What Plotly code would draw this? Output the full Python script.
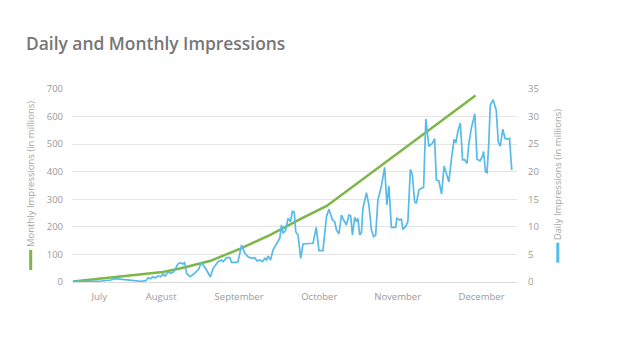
import plotly.graph_objects as go

# ---- data ----
# x unit: day index along the axis
daily_x = [0.2, 6.0, 11.2, 15.2, 16.9, 19.2, 23.2, 27.2, 29.2, 30.0, 31.1, 32.0, 32.9, 34.0, 35.1, 36.0, 36.9,
           38.0, 39.3, 40.4, 42.0, 43.1, 44.0, 44.7, 45.5, 46.8, 48.4, 50.3, 51.4, 53.3, 55.0, 56.1, 58.1, 59.5,
           60.1, 61.5, 62.8, 63.5, 65.5, 66.1, 67.5, 68.8, 70.1, 71.5, 72.8, 73.7, 74.8, 75.9, 76.8, 77.5, 78.1,
           79.1, 80.1, 81.5, 82.8, 83.5, 84.1, 85.2, 86.1, 87.1, 87.9, 88.6, 89.2, 90.1, 91.2, 92.1, 93.5, 94.5,
           96.1, 97.4, 98.5, 100.1, 101.5, 102.5, 103.9, 104.8, 105.5, 106.5, 107.5, 108.4, 109.5, 110.5, 111.2,
           111.9, 112.8, 113.5, 114.1, 114.8, 115.5, 116.1, 117.5, 118.5, 119.5, 120.4, 121.2, 122.1, 123.5,
           124.8, 125.7, 126.5, 127.5, 129.2, 129.7, 130.8, 131.5, 132.1, 133.2, 134.1, 135.1, 135.9, 136.8,
           137.5, 138.5, 139.5, 140.4, 141.3, 142.5, 143.9, 144.8, 145.5, 146.5, 147.6, 148.6, 149.5, 150.5,
           151.5, 152.6, 153.3, 154.1, 155.1, 156.0, 156.8, 157.8, 158.5, 159.5, 160.9, 161.8, 163.0, 164.0,
           164.4, 165.2, 165.8, 166.5, 167.1, 168.2, 169.5, 170.3, 171.1, 172.1, 173.0, 173.9, 174.8, 175.7]
daily_values = [0.18, 0.05, 0.18, 0.36, 0.6, 0.49, 0.24, 0.13, 0.24, 0.73, 0.6, 0.96, 0.73, 1.09, 0.96, 1.45, 1.09,
                1.76, 1.58, 1.87, 3.26, 3.5, 3.26, 3.5, 1.58, 0.96, 1.45, 2.3, 3.54, 2.3, 0.91, 2.48, 3.68, 3.99,
                3.68, 4.41, 4.41, 3.57, 3.57, 3.68, 6.71, 5.2, 4.59, 4.3, 4.41, 3.81, 3.99, 3.68, 4.3, 3.99, 4.72,
                3.99, 5.8, 7.02, 7.93, 10.34, 8.83, 9.43, 11.55, 10.94, 12.88, 12.6, 9.12, 8.52, 4.3, 6.89, 6.89, 7.02,
                7.02, 9.92, 5.68, 5.68, 11.84, 13.18, 11.24, 10.94, 9.43, 8.71, 12.15, 11.24, 10.34, 12.15, 11.97,
                8.52, 11.73, 10.94, 11.55, 8.52, 8.94, 13.37, 16.2, 13.96, 9.43, 8.22, 8.52, 14.87, 17.41,
                20.8, 13.96, 17.41, 9.92, 9.92, 11.55, 11.24, 11.37, 9.56, 10.03, 10.94, 20.44, 19.4, 14.56,
                14.27, 16.68, 16.99, 17.17, 29.56, 24.61, 25.15, 26.02, 18.5, 18.32, 15.96, 21.04, 19.71, 18.14,
                22.13, 25.88, 25.21, 27.26, 28.84, 22.13, 22.22, 21.49, 25.03, 27.87, 30.5, 22.27, 21.98, 22.85,
                23.67, 19.95, 19.82, 25.15, 32.05, 33.08, 31.1, 25.39, 24.66, 27.71, 26.06, 25.88, 26.06, 20.31]

monthly_x = [0, 16, 36, 42.8, 54.8, 66.8, 78.8, 90.8, 101.6, 161.2]
monthly_values = [2, 16, 36, 49, 76, 120, 170, 227, 276, 676]

month_ticks = [10.5, 35.3, 66.5, 98.6, 130.0, 163.6]
month_labels = ["July", "August", "September", "October", "November", "December"]

left_ticks = [0, 100, 200, 300, 400, 500, 600, 700]
right_ticks = [0, 5, 10, 15, 20, 25, 30, 35]

GREEN = "#7db646"
BLUE = "#56bbe8"
TICK = "#9a9a9a"
GRID = "#e4e4e4"
FONT = "Open Sans"

fig = go.Figure()
fig.add_trace(go.Scatter(x=monthly_x, y=monthly_values, mode="lines", yaxis="y",
                         line=dict(color=GREEN, width=2.5), hoverinfo="skip"))
fig.add_trace(go.Scatter(x=daily_x, y=daily_values, mode="lines", yaxis="y2",
                         line=dict(color=BLUE, width=1.7), hoverinfo="skip"))

fig.update_layout(
    width=621, height=338,
    margin=dict(l=72, r=104, t=89, b=56),
    paper_bgcolor="white", plot_bgcolor="white",
    showlegend=False,
    font=dict(family=FONT, color=TICK, size=10),
    title=dict(text="Daily and Monthly Impressions", x=26 / 621, xanchor="left", xref="container",
               y=1 - 44 / 338, yanchor="middle", yref="container",
               font=dict(family=FONT, size=17.4, color="#767676", weight=600)),
    xaxis=dict(range=[-0.4, 177.8], tickmode="array", tickvals=month_ticks, ticktext=month_labels,
               showgrid=False, zeroline=False, showline=True, linecolor="#dcdcdc", linewidth=1,
               ticks="", tickfont=dict(size=9.5, color=TICK), ticklabelstandoff=6),
    yaxis=dict(range=[0, 700], tickmode="array", tickvals=left_ticks, showgrid=True, gridcolor=GRID,
               gridwidth=1, zeroline=False, showline=False, ticks="",
               tickfont=dict(size=9.5, color=TICK), ticklabelstandoff=8),
    yaxis2=dict(range=[0, 35], tickmode="array", tickvals=right_ticks, overlaying="y", side="right",
                showgrid=False, zeroline=False, showline=False, ticks="",
                tickfont=dict(size=9.5, color=TICK), ticklabelstandoff=10),
)

fig.add_annotation(text="Monthly Impressions (in millions)", xref="paper", yref="paper",
                   x=-0.0921, y=0.5596, textangle=-90, showarrow=False,
                   xanchor="center", yanchor="middle",
                   font=dict(family=FONT, size=9.5, color="#a5a5a5"))
fig.add_annotation(text="Daily Impressions (in millions)", xref="paper", yref="paper",
                   x=1.091, y=0.5606, textangle=-90, showarrow=False,
                   xanchor="center", yanchor="middle",
                   font=dict(family=FONT, size=9.5, color="#a5a5a5"))
fig.add_shape(type="line", xref="paper", yref="paper", x0=-0.0928, x1=-0.0928, y0=0.0622, y1=0.1658,
              line=dict(color=GREEN, width=3))
fig.add_shape(type="line", xref="paper", yref="paper", x0=1.0917, x1=1.0917, y0=0.10, y1=0.2036,
              line=dict(color=BLUE, width=3))

fig.write_html("out.html")
